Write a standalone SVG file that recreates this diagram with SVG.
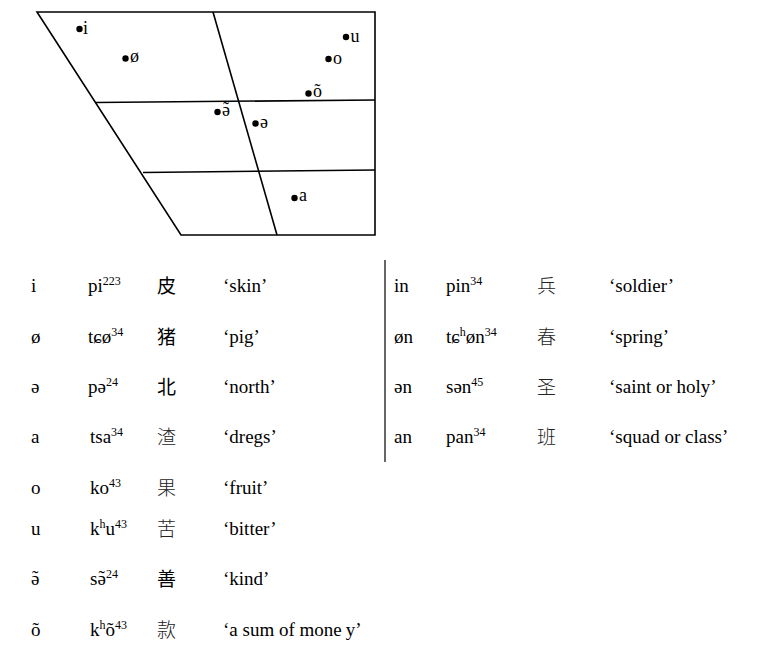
<svg xmlns="http://www.w3.org/2000/svg" width="763" height="660" viewBox="0 0 763 660">
<style>
.ln{stroke:#000;stroke-width:1.6;fill:none}
.dot{fill:#000}
.lab{font-family:"Liberation Serif","Times New Roman",serif;font-size:18px;fill:#000}
.t{font-family:"Liberation Serif","Times New Roman",serif;font-size:19px;fill:#000}
.sup{font-size:12px}
.zh{font-family:"Noto Sans CJK SC","Noto Sans CJK TC",sans-serif;font-size:19px;fill:#000}
.zl{font-family:"Noto Sans CJK SC","Noto Sans CJK TC",sans-serif;font-size:19px;fill:#222;font-weight:300}
</style>
<rect width="763" height="660" fill="#fff"/>
<g id="chart">
<polygon class="ln" points="37,12 375,12 375,235 181,235"/>
<line class="ln" x1="213" y1="12" x2="277" y2="235"/>
<line class="ln" x1="95.5" y1="102.5" x2="375" y2="100"/>
<line class="ln" x1="143" y1="172.5" x2="375" y2="170"/>
</g>
<g id="vowels">
<g id="v-i"><circle class="dot" cx="79.5" cy="29" r="3.2"/><text class="lab" x="83" y="34">i</text></g>
<g id="v-oe"><circle class="dot" cx="125.5" cy="58.5" r="3.2"/><text class="lab" x="130" y="62">ø</text></g>
<g id="v-u"><circle class="dot" cx="346" cy="37" r="3.2"/><text class="lab" x="350.5" y="42">u</text></g>
<g id="v-o"><circle class="dot" cx="328.5" cy="59" r="3.2"/><text class="lab" x="333" y="64">o</text></g>
<g id="v-on"><circle class="dot" cx="308.5" cy="93.5" r="3.2"/><text class="lab" x="313" y="97">õ</text></g>
<g id="v-en"><circle class="dot" cx="217.5" cy="112" r="3.2"/><text class="lab" x="222" y="116">ə<tspan x="223" dy="-1">˜</tspan></text></g>
<g id="v-e"><circle class="dot" cx="255.5" cy="123.5" r="3.2"/><text class="lab" x="260" y="128">ə</text></g>
<g id="v-a"><circle class="dot" cx="294.5" cy="198" r="3.2"/><text class="lab" x="299" y="201">a</text></g>
</g>
<g id="divider"><line x1="385" y1="260" x2="385" y2="462" stroke="#000" stroke-width="1.2"/></g>
<g id="table-left">
<g id="r-i"><text class="t" x="31" y="292">i</text><text class="t" x="88" y="292">pi<tspan class="sup" dy="-7">223</tspan></text><text class="zh" x="157" y="293">皮</text><text class="t" x="223" y="292">‘skin’</text></g>
<g id="r-oe"><text class="t" x="31" y="343">ø</text><text class="t" x="88" y="343">tɕø<tspan class="sup" dy="-7">34</tspan></text><text class="zh" x="157" y="344">猪</text><text class="t" x="223" y="343">‘pig’</text></g>
<g id="r-e"><text class="t" x="31" y="393">ə</text><text class="t" x="88" y="393">pə<tspan class="sup" dy="-7">24</tspan></text><text class="zh" x="157" y="394">北</text><text class="t" x="223" y="393">‘north’</text></g>
<g id="r-a"><text class="t" x="31" y="443">a</text><text class="t" x="90" y="443">tsa<tspan class="sup" dy="-7">34</tspan></text><text class="zl" x="157" y="444">渣</text><text class="t" x="223" y="443">‘dregs’</text></g>
<g id="r-o"><text class="t" x="31" y="494">o</text><text class="t" x="90" y="494">ko<tspan class="sup" dy="-7">43</tspan></text><text class="zl" x="157" y="495">果</text><text class="t" x="223" y="494">‘fruit’</text></g>
<g id="r-u"><text class="t" x="31" y="535">u</text><text class="t" x="90" y="535">k<tspan class="sup" dy="-7">h</tspan><tspan dy="7">u</tspan><tspan class="sup" dy="-7">43</tspan></text><text class="zl" x="157" y="536">苦</text><text class="t" x="223" y="535">‘bitter’</text></g>
<g id="r-en"><text class="t" x="31" y="585">ə<tspan x="32.1" dy="-1">˜</tspan></text><text class="t" x="90" y="585">sə<tspan x="98.5" dy="-1">˜</tspan><tspan class="sup" x="105.9" dy="-6">24</tspan></text><text class="zh" x="157" y="586">善</text><text class="t" x="223" y="585">‘kind’</text></g>
<g id="r-on"><text class="t" x="31" y="636">õ</text><text class="t" x="90" y="636">k<tspan class="sup" dy="-7">h</tspan><tspan dy="7">õ</tspan><tspan class="sup" dy="-7">43</tspan></text><text class="zl" x="157" y="637">款</text><text class="t" x="223" y="636">‘a sum of mone<tspan dx="4">y’</tspan></text></g>
</g>
<g id="table-right">
<g id="r-in"><text class="t" x="394" y="292">in</text><text class="t" x="446" y="292">pin<tspan class="sup" dy="-7">34</tspan></text><text class="zl" x="537" y="293">兵</text><text class="t" x="609" y="292">‘soldier’</text></g>
<g id="r-oen"><text class="t" x="394" y="343">øn</text><text class="t" x="446" y="343">tɕ<tspan class="sup" dy="-7">h</tspan><tspan dy="7">øn</tspan><tspan class="sup" dy="-7">34</tspan></text><text class="zl" x="537" y="344">春</text><text class="t" x="609" y="343">‘spring’</text></g>
<g id="r-en2"><text class="t" x="394" y="393">ən</text><text class="t" x="446" y="393">sən<tspan class="sup" dy="-7">45</tspan></text><text class="zl" x="537" y="394">圣</text><text class="t" x="609" y="393">‘saint or holy’</text></g>
<g id="r-an"><text class="t" x="394" y="443">an</text><text class="t" x="446" y="443">pan<tspan class="sup" dy="-7">34</tspan></text><text class="zl" x="537" y="444">班</text><text class="t" x="609" y="443">‘squad or class’</text></g>
</g>
</svg>
